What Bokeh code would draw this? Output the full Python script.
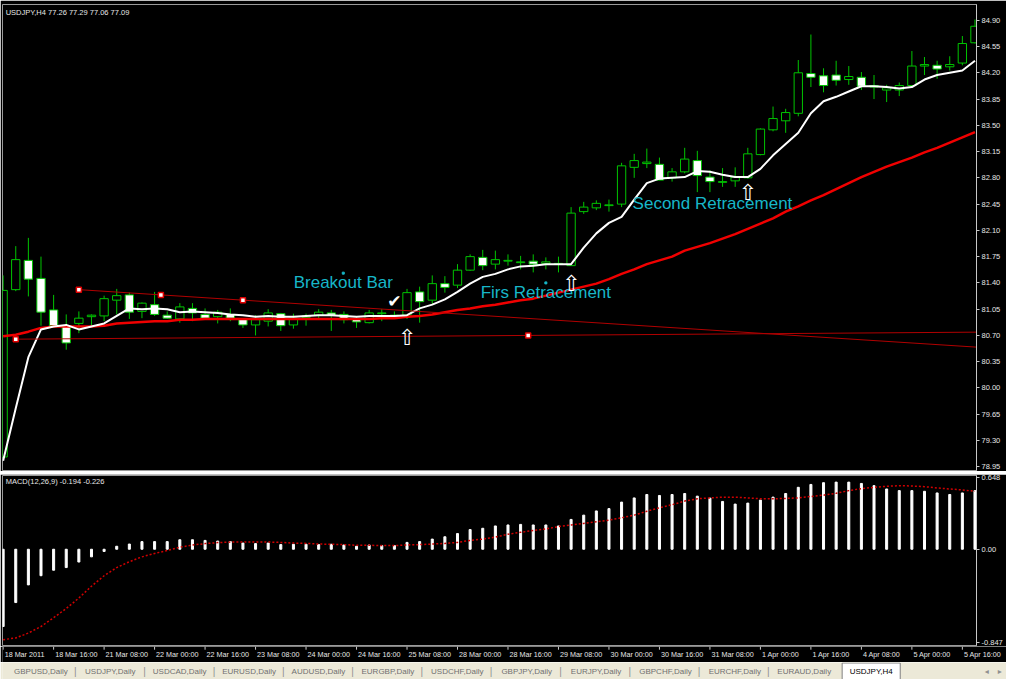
from bokeh.plotting import figure
from bokeh.layouts import column
from bokeh.models import Range1d, FixedTicker, PrintfTickFormatter, CustomJSTickFormatter, Label, ColumnDataSource
from bokeh.core.properties import value
from bokeh.embed import file_html
from bokeh.resources import INLINE

# ---------------- data ----------------
bars = list(range(78))
opens = [79.08, 81.31, 81.70, 81.46, 81.04, 80.82, 80.86, 80.95, 80.96, 81.17,
         81.24, 81.02, 81.11, 80.97, 80.92, 81.06, 80.98, 80.95, 80.98, 80.92,
         80.84, 80.89, 80.99, 80.84, 80.94, 80.97, 81.00, 80.98, 80.92, 80.87,
         80.99, 80.96, 80.97, 81.28, 81.17, 81.39, 81.37, 81.57, 81.74, 81.65,
         81.69, 81.67, 81.69, 81.66, 81.65, 81.63, 82.35, 82.40, 82.43, 82.45,
         82.94, 82.99, 82.98, 82.80, 82.88, 83.03, 82.81, 82.74, 82.76, 82.80,
         83.11, 83.44, 83.56, 83.66, 84.19, 84.16, 84.17, 84.11, 84.14, 84.03,
         83.97, 83.97, 84.03, 84.29, 84.30, 84.28, 84.33, 84.60]
highs = [81.50, 81.89, 82.00, 81.75, 81.24, 80.98, 81.02, 80.98, 81.23, 81.32,
         81.27, 81.14, 81.28, 81.02, 81.13, 81.13, 81.06, 81.04, 81.06, 80.93,
         80.97, 81.05, 81.00, 80.99, 80.99, 81.05, 81.04, 81.02, 80.95, 81.04,
         81.05, 81.02, 81.32, 81.35, 81.50, 81.49, 81.65, 81.78, 81.84, 81.83,
         81.78, 81.76, 81.78, 81.74, 81.75, 82.41, 82.48, 82.50, 82.51, 83.00,
         83.12, 83.19, 83.07, 82.93, 83.20, 83.16, 82.90, 82.93, 82.94, 83.20,
         83.46, 83.75, 83.72, 84.37, 84.71, 84.26, 84.36, 84.29, 84.21, 84.17,
         84.04, 84.07, 84.49, 84.41, 84.36, 84.42, 84.69, 84.91]
lows = [79.05, 81.29, 81.22, 80.83, 80.82, 80.51, 80.73, 80.83, 80.89, 80.98,
        80.92, 80.93, 80.96, 80.92, 80.87, 80.89, 80.92, 80.86, 80.89, 80.80,
        80.70, 80.82, 80.76, 80.79, 80.83, 80.93, 80.76, 80.86, 80.80, 80.86,
        80.89, 80.92, 80.92, 80.87, 81.11, 81.27, 81.33, 81.56, 81.57, 81.58,
        81.63, 81.58, 81.54, 81.58, 81.54, 81.63, 82.32, 82.37, 82.35, 82.41,
        82.80, 82.93, 82.77, 82.75, 82.86, 82.61, 82.61, 82.68, 82.68, 82.79,
        83.10, 83.42, 83.40, 83.62, 84.01, 83.94, 84.03, 84.04, 83.97, 83.85,
        83.81, 83.89, 84.01, 84.17, 84.12, 84.23, 84.30, 84.59]
closes = [81.30, 81.71, 81.45, 81.01, 80.83, 80.60, 80.93, 80.97, 81.19, 81.23,
          81.01, 81.13, 80.98, 80.93, 81.08, 81.00, 80.93, 81.01, 80.93, 80.84,
          80.91, 81.00, 80.83, 80.93, 80.96, 81.01, 80.97, 80.91, 80.88, 81.00,
          81.00, 80.97, 81.27, 81.15, 81.39, 81.34, 81.57, 81.75, 81.63, 81.71,
          81.70, 81.68, 81.65, 81.68, 81.66, 82.33, 82.41, 82.46, 82.44, 82.96,
          83.03, 83.01, 82.77, 82.88, 83.05, 82.83, 82.75, 82.75, 82.81, 83.12,
          83.45, 83.59, 83.67, 84.20, 84.14, 84.03, 84.10, 84.15, 84.02, 84.01,
          84.00, 84.03, 84.29, 84.31, 84.25, 84.31, 84.59, 84.82]
ma_fast = [79.03, 79.73, 80.41, 80.78, 80.82, 80.84, 80.78, 80.82, 80.86, 80.96,
           81.06, 81.05, 81.06, 81.05, 81.01, 81.02, 81.01, 81.00, 80.98, 80.97,
           80.95, 80.96, 80.95, 80.95, 80.96, 80.97, 80.97, 80.96, 80.95, 80.96,
           80.96, 80.96, 80.97, 81.06, 81.11, 81.18, 81.28, 81.39, 81.48, 81.52,
           81.58, 81.62, 81.63, 81.65, 81.65, 81.65, 81.87, 82.06, 82.20, 82.28,
           82.51, 82.73, 82.79, 82.80, 82.81, 82.89, 82.88, 82.84, 82.81, 82.81,
           82.92, 83.10, 83.25, 83.40, 83.66, 83.82, 83.88, 83.95, 84.02, 84.02,
           84.01, 83.99, 84.01, 84.11, 84.17, 84.20, 84.23, 84.36]
ma_slow = [80.69, 80.71, 80.75, 80.80, 80.82, 80.82, 80.82, 80.82, 80.83, 80.86,
           80.87, 80.88, 80.89, 80.89, 80.91, 80.91, 80.92, 80.92, 80.92, 80.92,
           80.92, 80.92, 80.92, 80.92, 80.92, 80.92, 80.92, 80.92, 80.92, 80.92,
           80.93, 80.93, 80.95, 80.96, 80.98, 81.01, 81.04, 81.06, 81.09, 81.11,
           81.14, 81.17, 81.19, 81.23, 81.27, 81.31, 81.35, 81.39, 81.45, 81.52,
           81.58, 81.65, 81.70, 81.75, 81.83, 81.88, 81.93, 81.99, 82.05, 82.12,
           82.19, 82.26, 82.35, 82.42, 82.50, 82.57, 82.65, 82.73, 82.81, 82.88,
           82.95, 83.01, 83.07, 83.14, 83.20, 83.27, 83.34, 83.41]
macd_hist = [-0.700, -0.483, -0.323, -0.240, -0.190, -0.166, -0.116, -0.069, -0.020, 0.027,
             0.047, 0.069, 0.069, 0.069, 0.086, 0.086, 0.080, 0.074, 0.069, 0.056,
             0.051, 0.056, 0.042, 0.045, 0.045, 0.042, 0.045, 0.038, 0.027, 0.038,
             0.033, 0.033, 0.062, 0.069, 0.092, 0.113, 0.142, 0.178, 0.190, 0.211,
             0.220, 0.225, 0.220, 0.220, 0.211, 0.270, 0.309, 0.347, 0.368, 0.427,
             0.465, 0.496, 0.487, 0.496, 0.505, 0.481, 0.463, 0.433, 0.409, 0.418,
             0.445, 0.472, 0.505, 0.561, 0.587, 0.603, 0.608, 0.608, 0.596, 0.576,
             0.546, 0.531, 0.531, 0.525, 0.510, 0.496, 0.510, 0.531]
macd_signal = [-0.819, -0.804, -0.759, -0.700, -0.620, -0.537, -0.442, -0.335, -0.240, -0.166,
               -0.113, -0.069, -0.038, -0.012, 0.018, 0.038, 0.051, 0.060, 0.065, 0.065,
               0.065, 0.065, 0.062, 0.056, 0.053, 0.047, 0.045, 0.042, 0.036, 0.036,
               0.033, 0.033, 0.039, 0.042, 0.047, 0.053, 0.062, 0.080, 0.092, 0.110,
               0.136, 0.154, 0.169, 0.184, 0.205, 0.220, 0.234, 0.249, 0.264, 0.285,
               0.309, 0.344, 0.376, 0.403, 0.436, 0.457, 0.465, 0.472, 0.472, 0.465,
               0.457, 0.457, 0.460, 0.465, 0.478, 0.490, 0.507, 0.531, 0.549, 0.561,
               0.570, 0.576, 0.573, 0.567, 0.555, 0.546, 0.537, 0.525]

price_ticks = [78.95, 79.30, 79.65, 80.00, 80.35, 80.70, 81.05, 81.40, 81.75,
               82.10, 82.45, 82.80, 83.15, 83.50, 83.85, 84.20, 84.55, 84.90]
macd_ticks = [-0.847, 0.0, 0.648]
time_label_bars = [0, 4, 8, 12, 16, 20, 24, 28, 32, 36, 40, 44, 48, 52, 56, 60, 64, 68, 72, 76]
time_labels = ["18 Mar 2011", "18 Mar 16:00", "21 Mar 08:00", "22 Mar 00:00", "22 Mar 16:00",
               "23 Mar 08:00", "24 Mar 00:00", "24 Mar 16:00", "25 Mar 08:00", "28 Mar 00:00",
               "28 Mar 16:00", "29 Mar 08:00", "30 Mar 00:00", "30 Mar 16:00", "31 Mar 08:00",
               "1 Apr 00:00", "1 Apr 16:00", "4 Apr 08:00", "5 Apr 00:00", "5 Apr 16:00"]
tabs = ["GBPUSD,Daily", "USDJPY,Daily", "USDCAD,Daily", "EURUSD,Daily", "AUDUSD,Daily",
        "EURGBP,Daily", "USDCHF,Daily", "GBPJPY,Daily", "EURJPY,Daily", "GBPCHF,Daily",
        "EURCHF,Daily", "EURAUD,Daily"]
active_tab = "USDJPY,H4"
header = "USDJPY,H4  77.26 77.29 77.06 77.09"
macd_header = "MACD(12,26,9) -0.194 -0.226"

notes = ["Breakout Bar", "Firs Retracement", "Second Retracement"]
note_bar = [26.95, 43.0, 56.2]
note_price = [81.53, 81.40, 82.59]
note_dot_bar = [26.95, 43.0]
note_dot_price = [81.53, 81.40]
arrow_bar = [32, 45, 59]
arrow_price = [80.84, 81.56, 82.77]
check_bar = [31]
check_price = [81.03]
upper_anchor_bar = [6, 19]
upper_anchor_price = [81.31, 81.17]
lower_anchor_bar = [1, 41.6]
lower_anchor_price = [80.65, 80.70]

# ---------------- styling ----------------
GREEN = "#00c400"
CYAN = "#17b6c8"
AXC = "#c8c8c8"
LBL = "#e6e6e6"
FONT = "Liberation Sans"
X0, X1 = -0.05, 77.12
FW = 974

xr = Range1d(X0, X1)
Y0, Y1 = 78.90, 85.11

p = figure(frame_width=FW, frame_height=466, x_range=xr, y_range=Range1d(Y0, Y1),
           y_axis_location="right", x_axis_location=None, toolbar_location=None,
           output_backend="svg", background_fill_color="black", border_fill_color="black",
           min_border_left=2, min_border_right=30, min_border_top=4, min_border_bottom=1)
p.grid.visible = False
p.outline_line_color = "#9a9a9a"
ya = p.yaxis[0]
ya.ticker = FixedTicker(ticks=price_ticks)
ya.formatter = PrintfTickFormatter(format="%.2f")
ya.major_label_text_font = FONT
ya.major_label_text_font_size = "7.5px"
ya.major_label_text_color = LBL
ya.major_label_standoff = 2
ya.axis_line_color = AXC
ya.major_tick_line_color = AXC
ya.major_tick_out = 3
ya.major_tick_in = 0
ya.minor_tick_line_color = None

src = ColumnDataSource(dict(
    x=bars, high=highs, low=lows,
    top=[max(o, c) for o, c in zip(opens, closes)],
    bottom=[min(o, c) for o, c in zip(opens, closes)],
    fill=["black" if c >= o else "white" for o, c in zip(opens, closes)],
))
p.segment(x0="x", y0="low", x1="x", y1="high", source=src, line_color=GREEN, line_width=1)
p.vbar(x="x", top="top", bottom="bottom", width=0.66, source=src,
       fill_color="fill", line_color=GREEN, line_width=1)

p.line(bars, ma_slow, line_color="#f00000", line_width=2.5)
p.line(bars, ma_fast, line_color="white", line_width=2)

# trend lines (rays to the right edge)
def ray(bx, py):
    slope = (py[1] - py[0]) / (bx[1] - bx[0])
    return [bx[0], X1], [py[0], py[0] + slope * (X1 - bx[0])]

ux, uy = ray(upper_anchor_bar, upper_anchor_price)
lx, ly = ray(lower_anchor_bar, lower_anchor_price)
p.line(ux, uy, line_color="#b00000", line_width=1)
p.line(lx, ly, line_color="#b00000", line_width=1)
mk_x = upper_anchor_bar + [sum(upper_anchor_bar) / 2] + lower_anchor_bar
mk_y = upper_anchor_price + [sum(upper_anchor_price) / 2] + lower_anchor_price
p.scatter(mk_x, mk_y, marker="square", size=5, fill_color="white",
          line_color="#e00000", line_width=1.5)

p.text(x=note_bar, y=note_price, text=notes, text_font=value(FONT),
       text_font_size="17px", text_color=CYAN, text_align="center", text_baseline="top")
p.scatter(note_dot_bar, note_dot_price, marker="square", size=2, color=CYAN)
p.text(x=arrow_bar, y=arrow_price, text=["\u21e7"] * len(arrow_bar), text_font=value("DejaVu Sans"),
       text_font_size="22px", text_color="white", text_align="center", text_baseline="top")
p.text(x=check_bar, y=check_price, text=["\u2714"], text_font=value("DejaVu Sans"),
       text_font_size="17px", text_color="white", text_align="center", text_baseline="bottom")

p.add_layout(Label(x=X0 + 0.25, y=Y1 - 0.04, text=header, text_baseline="top",
                   text_font=FONT, text_font_size="7.5px", text_color=LBL))

# separator between panes
sep = figure(width=2 + FW + 30, height=3, toolbar_location=None, output_backend="svg",
             x_axis_location=None, y_axis_location=None, min_border=0,
             background_fill_color="#cfcac0", border_fill_color="#cfcac0")
sep.outline_line_color = None
sep.grid.visible = False

# MACD pane
MY0, MY1 = -0.872, 0.668
m = figure(frame_width=FW, frame_height=170, x_range=xr, y_range=Range1d(MY0, MY1),
           y_axis_location="right", x_axis_location=None, toolbar_location=None,
           output_backend="svg", background_fill_color="black", border_fill_color="black",
           min_border_left=2, min_border_right=30, min_border_top=1, min_border_bottom=1)
m.grid.visible = False
m.outline_line_color = "#9a9a9a"
my = m.yaxis[0]
my.ticker = FixedTicker(ticks=macd_ticks)
my.formatter = CustomJSTickFormatter(code="return tick == 0 ? '0.00' : tick.toFixed(3);")
my.major_label_text_font = FONT
my.major_label_text_font_size = "7.5px"
my.major_label_text_color = LBL
my.major_label_standoff = 2
my.axis_line_color = AXC
my.major_tick_line_color = AXC
my.major_tick_out = 3
my.major_tick_in = 0
my.minor_tick_line_color = None

m.vbar(x=bars, top=macd_hist, bottom=0, width=0.16, color="white")
m.line(bars, macd_signal, line_color="#d00000", line_dash="2 2", line_width=1.5)
m.add_layout(Label(x=X0 + 0.25, y=MY1 - 0.012, text=macd_header, text_baseline="top",
                   text_font=FONT, text_font_size="7.5px", text_color=LBL))

# time scale strip (ticks + labels)
SW = 2 + FW + 30 - 2
t = figure(frame_width=SW, frame_height=16, x_range=Range1d(X0, X0 + (X1 - X0) * SW / FW),
           y_range=Range1d(0, 1), toolbar_location=None, output_backend="svg",
           x_axis_location=None, y_axis_location=None,
           min_border_left=2, min_border_right=0, min_border_top=0, min_border_bottom=0,
           background_fill_color="black", border_fill_color="black")
t.outline_line_color = None
t.grid.visible = False
t.segment(x0=time_label_bars, y0=[1.0] * len(time_label_bars), x1=time_label_bars,
          y1=[0.8] * len(time_label_bars), line_color=AXC, line_width=1)
t.text(x=[b + 0.12 for b in time_label_bars], y=[0.48] * len(time_labels), text=time_labels,
       text_font=value(FONT), text_font_size="7.2px", text_color=LBL,
       text_align="left", text_baseline="middle")

# tab bar
TW = 2 + FW + 30
tb = figure(frame_width=TW, frame_height=17, x_range=Range1d(0, 1022), y_range=Range1d(0, 1),
            toolbar_location=None, output_backend="svg", x_axis_location=None,
            y_axis_location=None, min_border=0,
            background_fill_color="#ece9d8", border_fill_color="#ece9d8")
tb.outline_line_color = None
tb.grid.visible = False
tab_x = [39 + 70.5 * i for i in range(len(tabs))]
sep_x = [74 + 70.4 * i for i in range(len(tabs) - 1)]
tb.text(x=tab_x, y=[0.5] * len(tabs), text=tabs, text_font=value(FONT), text_font_size="8px",
        text_color="#707070", text_align="center", text_baseline="middle")
tb.text(x=sep_x, y=[0.5] * len(sep_x), text=["|"] * len(sep_x), text_font=value(FONT),
        text_font_size="10px", text_color="#909090", text_align="center", text_baseline="middle")
tb.quad(left=[853], right=[912], bottom=[-0.2], top=[0.97], fill_color="white",
        line_color="#808080", line_width=1)
tb.text(x=[882.5], y=[0.5], text=[active_tab], text_font=value(FONT), text_font_size="8px",
        text_color="black", text_align="center", text_baseline="middle")
tb.text(x=[1000, 1013], y=[0.5, 0.5], text=["\u25c2", "\u25b8"], text_font=value("DejaVu Sans"),
        text_font_size="8px", text_color="#909090", text_align="center", text_baseline="middle")

layout = column(p, sep, m, t, tb, spacing=0)
open("out.html", "w").write(file_html(layout, INLINE))
